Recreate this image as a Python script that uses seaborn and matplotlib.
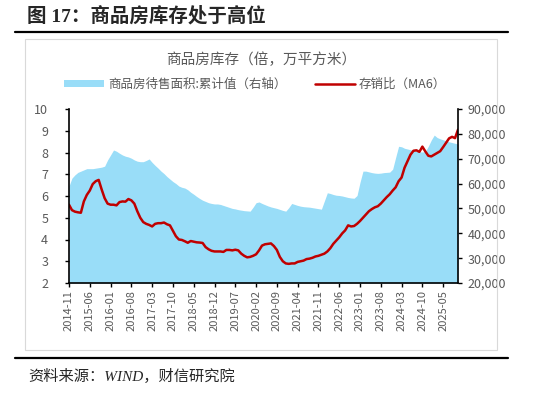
import numpy as np
import pandas as pd
import matplotlib
matplotlib.use("Agg")
import matplotlib.pyplot as plt
import seaborn as sns
from matplotlib.patches import Patch, Rectangle
from matplotlib.lines import Line2D

# monthly, 2014-11 .. 2025-10
months = pd.date_range("2014-11-01", periods=132, freq="MS").strftime("%Y-%m").tolist()

# 商品房待售面积:累计值 (万平方米)
stock_area = [
    59000, 62200,
    63500, 64500, 65000, 65500, 66000, 66000, 66000, 66200, 66400, 66600, 67000, 69500,
    71500, 73500, 73000, 72200, 71500, 71000, 70700, 70200, 69500, 69000, 68800, 68800,
    69300, 69900, 68500, 67300, 66200, 65000, 64000, 62800, 61800, 60800, 60000, 59000,
    58500, 58200, 57500, 56500, 55700, 54800, 54000, 53300, 52800, 52300, 52000, 51800,
    51800, 51600, 51200, 50800, 50400, 50000, 49800, 49500, 49300, 49100, 49000, 48900,
    50500, 52300, 52600, 52000, 51500, 51000, 50600, 50300, 50000, 49600, 49200, 48900,
    50300, 52000, 51600, 51200, 50900, 50700, 50600, 50500, 50300, 50100, 49900, 49700,
    53000, 56300, 56000, 55600, 55300, 55200, 55000, 54700, 54400, 54200, 54100, 55200,
    60500, 65000, 65000, 64700, 64400, 64200, 64100, 64200, 64400, 64500, 64600, 65800,
    70500, 75000, 74800, 74200, 73900, 73600, 73300, 73000, 72800, 72700, 72900, 75000,
    77500, 79500, 78500, 78000, 77600, 77200, 76800, 76500, 76200, 75900,
]

# 存销比 (MA6)
sales_ratio = [
    5.60, 5.35,
    5.28, 5.25, 5.23, 5.75, 6.05, 6.25, 6.55, 6.68, 6.74, 6.30, 5.90, 5.65,
    5.60, 5.60, 5.57, 5.72, 5.75, 5.74, 5.86, 5.80, 5.65, 5.30, 5.00, 4.80,
    4.72, 4.67, 4.60, 4.72, 4.75, 4.75, 4.78, 4.70, 4.65, 4.40, 4.15, 4.00,
    3.98, 3.92, 3.85, 3.93, 3.90, 3.87, 3.86, 3.84, 3.65, 3.55, 3.48, 3.45,
    3.45, 3.45, 3.43, 3.52, 3.52, 3.50, 3.53, 3.50, 3.35, 3.25, 3.18, 3.20,
    3.25, 3.32, 3.50, 3.72, 3.78, 3.80, 3.82, 3.70, 3.52, 3.20, 3.00, 2.90,
    2.88, 2.90, 2.90, 2.97, 3.00, 3.03, 3.10, 3.12, 3.16, 3.22, 3.25, 3.30,
    3.35, 3.45, 3.60, 3.80, 3.95, 4.10, 4.28, 4.42, 4.65, 4.60, 4.62, 4.72,
    4.85, 5.00, 5.15, 5.30, 5.40, 5.48, 5.53, 5.65, 5.80, 5.95, 6.08, 6.25,
    6.40, 6.68, 6.85, 7.30, 7.60, 7.90, 8.08, 8.10, 8.03, 8.27, 8.05, 7.85,
    7.82, 7.90, 7.98, 8.06, 8.25, 8.45, 8.65, 8.72, 8.66, 9.05,
]

left_ticks = [2, 3, 4, 5, 6, 7, 8, 9, 10]
right_ticks = [20000, 30000, 40000, 50000, 60000, 70000, 80000, 90000]

df = pd.DataFrame({"month": months, "area": stock_area, "ratio": sales_ratio})
df["idx"] = np.arange(len(df))

sns.set_style("white")
plt.rcParams["font.family"] = ["Noto Sans CJK SC", "DejaVu Sans"]

grey = "#595959"
blue = "#99DDF8"
red = "#C00000"

fig = plt.figure(figsize=(5.5, 3.94), dpi=100)

# frame lines and box
fig.add_artist(Line2D([15 / 550, 508 / 550], [1 - 32 / 394] * 2, color="black", lw=1.6))
fig.add_artist(Line2D([15 / 550, 508 / 550], [1 - 358 / 394] * 2, color="black", lw=1.6))
fig.add_artist(Rectangle((25 / 550, 1 - 350 / 394), 472 / 550, 311 / 394,
                         fill=False, edgecolor="#D9D9D9", lw=0.8))

fig.text(27 / 550, 1 - 16 / 394, "图 17：商品房库存处于高位", fontsize=14, fontweight="bold",
         family=["Liberation Serif", "Noto Sans CJK SC"], va="center", ha="left")
fig.text(261 / 550, 1 - 60 / 394, "商品房库存（倍，万平方米）", fontsize=10.5, color=grey,
         ha="center", va="center")
fig.text(28 / 550, 1 - 376 / 394, "资料来源：WIND，财信研究院", fontsize=11, style="italic",
         family=["Liberation Serif", "Noto Sans CJK SC"], va="center", ha="left")

ax = fig.add_axes([69 / 550, 1 - 283 / 394, 389 / 550, 174 / 394])
ax.fill_between(df["idx"], df["area"], 20000, color=blue, lw=0)
ax.set_ylim(20000, 90000)
ax.set_yticks(right_ticks)
ax.set_yticklabels([f"{v:,}" for v in right_ticks])

ax2 = ax.twinx()
sns.lineplot(data=df, x="idx", y="ratio", color=red, lw=1.8, ax=ax2)
ax2.set_ylim(2, 10)
ax2.set_yticks(left_ticks)

# area axis on the right, ratio axis on the left
ax.yaxis.tick_right()
ax2.yaxis.tick_left()
ax2.yaxis.set_label_position("left")

ax.set_xlim(0, len(df) - 1)
xt = list(range(0, len(df), 7))
ax.set_xticks(xt)
ax.set_xticklabels([months[i] for i in xt], rotation=90)
for a in (ax, ax2):
    a.set_xlabel("")
    a.set_ylabel("")
    for s in a.spines.values():
        s.set_visible(False)
ax.spines["bottom"].set_visible(True)
ax2.spines["right"].set_visible(True)
ax2.spines["left"].set_visible(True)
for s in (ax.spines["bottom"], ax2.spines["right"], ax2.spines["left"]):
    s.set_color("black")
    s.set_linewidth(1.2)

ax.tick_params(axis="x", direction="out", length=3, width=1, colors="black",
               labelcolor=grey, labelsize=8, pad=2, bottom=True)
ax.tick_params(axis="y", direction="out", length=3, width=1, colors="black",
               labelcolor=grey, labelsize=9, right=True, left=False, labelright=True,
               labelleft=False, pad=4)
ax2.tick_params(axis="y", direction="out", length=3, width=1, colors="black",
                labelcolor=grey, labelsize=9, left=True, right=False, labelleft=True,
                labelright=False, pad=12)
for lab in ax2.get_yticklabels():
    lab.set_horizontalalignment("right")

handles = [Patch(facecolor=blue, edgecolor="none"), Line2D([0], [0], color=red, lw=1.8)]
labels = ["商品房待售面积:累计值（右轴）", "存销比（MA6）"]
fig.legend(handles, labels, loc="center", bbox_to_anchor=(255 / 550, 1 - 84 / 394), ncol=2,
           frameon=False, fontsize=9, labelcolor=grey, handlelength=3.2, handleheight=0.5,
           handletextpad=0.3, columnspacing=2.3, borderpad=0)

fig.savefig("out.png", dpi=100)
